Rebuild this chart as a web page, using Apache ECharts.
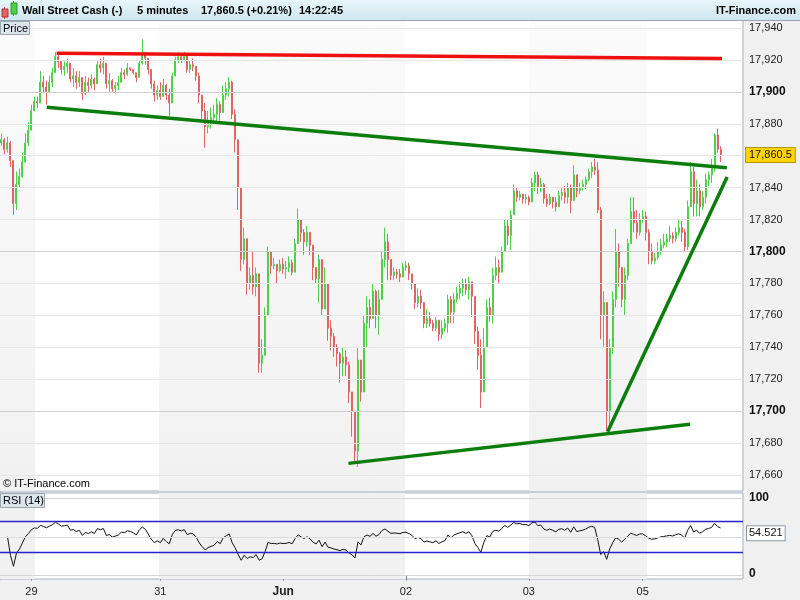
<!DOCTYPE html>
<html><head><meta charset="utf-8">
<script src="https://cdn.jsdelivr.net/npm/echarts@6/dist/echarts.min.js"></script>
<style>html,body{margin:0;padding:0;background:#f0f0f0}#c{width:800px;height:600px}</style>
</head><body><div id="c"></div>
<script>
// ---- data ----
const dayLabels = ['29', '31', 'Jun', '02', '03', '05'];
const dayTickIndex = [10, 53, 94, 135, 176, 214];
const shadedDays = [[0, 11.7], [53.1, 135.2], [176.6, 216.0]]; // in bar units
const firstOpen = 17868;
const closes = [17870,17864,17868,17857,17830,17842,17847,17856,17868,17876,17888,17894,17893,17906,17903,17900,17906,17912,17922,17919,17914,17916,17918,17908,17910,17906,17909,17899,17906,17904,17908,17905,17917,17915,17918,17905,17907,17902,17904,17906,17912,17911,17915,17914,17912,17909,17918,17924,17921,17914,17905,17898,17901,17897,17904,17898,17893,17910,17920,17922,17920,17923,17914,17917,17916,17910,17898,17888,17878,17882,17884,17886,17892,17887,17898,17902,17906,17886,17870,17840,17795,17808,17780,17785,17778,17786,17730,17735,17760,17800,17791,17792,17788,17792,17789,17790,17793,17787,17805,17820,17812,17806,17812,17804,17790,17783,17795,17764,17780,17752,17747,17740,17736,17730,17734,17729,17712,17700,17675,17732,17712,17755,17765,17758,17775,17760,17770,17795,17806,17795,17785,17787,17786,17784,17790,17791,17786,17780,17768,17772,17768,17755,17758,17755,17752,17757,17748,17752,17755,17770,17762,17770,17774,17777,17780,17776,17781,17772,17750,17735,17712,17740,17765,17760,17785,17790,17787,17800,17816,17810,17823,17838,17834,17836,17833,17834,17831,17843,17848,17840,17842,17833,17830,17834,17831,17828,17835,17837,17834,17840,17832,17848,17838,17840,17842,17845,17850,17853,17851,17826,17760,17768,17700,17740,17770,17800,17790,17770,17785,17805,17825,17818,17812,17820,17822,17812,17800,17794,17796,17800,17804,17806,17808,17810,17808,17812,17815,17812,17803,17828,17850,17830,17838,17828,17834,17845,17848,17853,17873,17864,17860.5];
const highs = [17874,17871,17872,17869,17856,17850,17852,17862,17874,17881,17892,17897,17897,17913,17910,17907,17910,17915,17925,17924,17920,17919,17921,17916,17915,17913,17913,17906,17910,17909,17911,17909,17920,17921,17922,17914,17912,17908,17906,17910,17915,17914,17918,17915,17913,17911,17920,17933,17925,17920,17914,17907,17904,17906,17908,17905,17902,17912,17922,17925,17923,17925,17921,17920,17921,17915,17912,17897,17893,17888,17890,17892,17896,17894,17904,17906,17909,17907,17889,17866,17815,17815,17800,17790,17800,17790,17775,17745,17765,17803,17796,17796,17792,17795,17796,17794,17797,17795,17808,17827,17820,17814,17816,17810,17802,17790,17798,17785,17790,17765,17757,17749,17742,17737,17740,17738,17731,17712,17695,17740,17732,17760,17772,17770,17780,17776,17776,17800,17815,17811,17793,17790,17789,17789,17793,17794,17793,17786,17780,17777,17776,17768,17764,17762,17757,17759,17755,17757,17758,17773,17772,17774,17778,17781,17783,17783,17784,17781,17770,17753,17745,17752,17770,17771,17790,17797,17795,17803,17820,17820,17826,17842,17840,17838,17836,17836,17835,17846,17850,17850,17846,17843,17836,17836,17834,17834,17838,17840,17841,17843,17842,17854,17845,17843,17845,17847,17852,17856,17858,17856,17828,17775,17745,17745,17775,17814,17805,17790,17790,17808,17834,17834,17826,17824,17826,17825,17814,17805,17799,17806,17808,17811,17811,17816,17812,17815,17820,17819,17814,17832,17856,17853,17845,17842,17838,17849,17850,17858,17874,17877,17866];
const lows = [17866,17861,17862,17853,17823,17826,17840,17846,17858,17866,17878,17889,17890,17893,17899,17892,17899,17903,17912,17915,17911,17910,17912,17906,17903,17902,17903,17895,17898,17900,17902,17901,17908,17912,17911,17902,17900,17900,17899,17901,17906,17908,17910,17913,17911,17906,17914,17917,17917,17911,17902,17894,17895,17895,17897,17895,17885,17900,17912,17918,17918,17919,17912,17912,17913,17907,17893,17882,17865,17874,17877,17880,17882,17882,17890,17895,17897,17883,17862,17826,17788,17792,17773,17776,17773,17772,17724,17724,17740,17762,17786,17789,17780,17787,17786,17783,17787,17785,17788,17808,17806,17798,17803,17798,17782,17780,17768,17760,17764,17744,17738,17734,17728,17718,17722,17722,17705,17684,17668,17665,17706,17730,17740,17752,17760,17752,17748,17770,17790,17782,17782,17782,17783,17781,17786,17788,17782,17776,17764,17765,17764,17752,17752,17753,17750,17750,17744,17745,17750,17749,17755,17755,17768,17770,17772,17773,17770,17759,17742,17726,17702,17730,17748,17756,17755,17782,17780,17790,17800,17804,17801,17828,17831,17832,17830,17830,17829,17834,17838,17836,17837,17830,17828,17829,17827,17825,17828,17832,17830,17830,17824,17838,17834,17836,17838,17839,17844,17846,17848,17824,17745,17740,17688,17692,17736,17765,17778,17765,17760,17782,17806,17812,17808,17810,17818,17807,17792,17792,17792,17795,17798,17802,17803,17806,17805,17806,17810,17806,17800,17801,17830,17822,17822,17822,17826,17830,17841,17843,17850,17862,17856];
const resistanceLine = [[18.9, 17924.1], [241.0, 17920.9]];
const upperTrendLine = [[15.6, 17890.3], [242.6, 17852.5]];
const lowerTrendLine = [[116.3, 17667.3], [230.3, 17691.8]];
const risingTrendLine = [[202.8, 17687.1], [242.7, 17846.7]];
const rsiLastShown = 54.521;

// ---- build ----
const N = 248;
const FONT = '"Liberation Sans", Arial, sans-serif';
const cats = Array.from({length: N}, (_, i) => String(i));
const candles = closes.map((c, i) => {
  const o = i ? closes[i - 1] : firstOpen;
  return [o, c, Math.min(lows[i], o, c), Math.max(highs[i], o, c)];
});
// RSI(14), Wilder smoothing, from the closes
function rsi(cl, o0, n) {
  const out = []; let ag = 0, al = 0;
  for (let i = 0; i < cl.length; i++) {
    const d = cl[i] - (i ? cl[i - 1] : o0);
    const k = Math.min(i + 1, n);
    ag = (ag * (k - 1) + Math.max(d, 0)) / k;
    al = (al * (k - 1) + Math.max(-d, 0)) / k;
    out.push(i < 2 ? '-' : (al === 0 ? 100 : 100 - 100 / (1 + ag / al)));
  }
  return out;
}
const rsiData = rsi(closes, firstOpen, 14);
const gridLevels = [];
for (let v = 17660; v <= 17940; v += 20) gridLevels.push(v);
const fmt = v => v.toLocaleString('en-US', {maximumFractionDigits: 1});
const CLEAR = 'rgba(0,0,0,0)';

const bandGrad = {type: 'linear', x: 0, y: 0, x2: 0, y2: 1,
  colorStops: [{offset: 0, color: '#fbfbfb'}, {offset: 1, color: '#f1f1f1'}]};
const bandAreas = (color) => shadedDays.map(d => [{xAxis: d[0], itemStyle: {color}}, {xAxis: d[1]}]);
const trend = (data, color) => ({type: 'line', xAxisIndex: 1, yAxisIndex: 0, data, symbol: 'none',
  silent: true, z: 6, lineStyle: {color, width: 3.5}, animation: false});
const HF = 'bold 11px ' + FONT;

const chart = echarts.init(document.getElementById('c'));
chart.setOption({
  animation: false,
  backgroundColor: '#f0f0f0',
  textStyle: {fontFamily: FONT},
  grid: [
    {left: 0, right: 57, top: 20, bottom: 109, show: true, backgroundColor: '#ffffff', borderColor: '#a4b0bc', borderWidth: 1},
    {left: 0, right: 57, top: 493, bottom: 21, show: true, backgroundColor: '#ffffff', borderColor: '#a4b0bc', borderWidth: 1}
  ],
  xAxis: [
    {type: 'category', gridIndex: 0, data: cats, show: false},
    {type: 'value', gridIndex: 0, min: 0, max: N, show: false},
    {type: 'category', gridIndex: 1, data: cats,
      axisLine: {lineStyle: {color: '#98a4b0'}},
      axisTick: {show: true, alignWithLabel: true, length: 5, lineStyle: {color: '#7a8794'},
        interval: (i) => dayTickIndex.includes(i)},
      axisLabel: {interval: (i) => dayTickIndex.includes(i), margin: 7, fontSize: 11, color: '#222',
        formatter: (v) => { const k = dayTickIndex.indexOf(Number(v)); if (k < 0) return ''; const s = dayLabels[k]; return s === 'Jun' ? '{b|' + s + '}' : s; },
        rich: {b: {fontWeight: 'bold', fontSize: 12, color: '#222', fontFamily: FONT}}}},
    {type: 'value', gridIndex: 1, min: 0, max: N, show: false}
  ],
  yAxis: [
    {type: 'value', gridIndex: 0, position: 'right', min: 17650, max: 17945, interval: 10, scale: true,
      axisLine: {show: true, lineStyle: {color: '#8e9aa6'}},
      axisTick: {show: true, length: 4, lineStyle: {color: '#8e9aa6'}},
      splitLine: {show: false},
      axisLabel: {margin: 6, fontSize: 11, color: '#222', showMaxLabel: false, showMinLabel: false,
        formatter: v => { if (v % 20 !== 0) return ''; const s = fmt(v); return v % 100 === 0 ? '{b|' + s + '}' : s; },
        rich: {b: {fontWeight: 'bold', fontSize: 12, color: '#111', fontFamily: FONT}}}},
    {type: 'value', gridIndex: 1, position: 'right', min: -4.4, max: 106.4,
      axisLine: {show: true, lineStyle: {color: '#8e9aa6'}},
      axisTick: {show: false}, axisLabel: {show: false}, splitLine: {show: false}}
  ],
  series: [
    {type: 'line', xAxisIndex: 1, yAxisIndex: 0, data: [], z: 0, silent: true,
      markArea: {silent: true, data: bandAreas(bandGrad)}},
    {type: 'line', xAxisIndex: 1, yAxisIndex: 0, data: [], z: 1, silent: true,
      markLine: {silent: true, symbol: 'none', animation: false, label: {show: false},
        data: gridLevels.map(v => ({yAxis: v, lineStyle: {type: 'solid', width: 1, color: v % 100 === 0 ? '#cfcfcf' : '#e6e6e6'}}))}},
    {type: 'line', xAxisIndex: 3, yAxisIndex: 1, data: [], z: 0, silent: true,
      markArea: {silent: true, data: bandAreas('#f1f1f1')}},
    {type: 'line', xAxisIndex: 3, yAxisIndex: 1, data: [], z: 1, silent: true,
      markLine: {silent: true, symbol: 'none', animation: false,
        data: [
          {yAxis: 100, lineStyle: {type: 'solid', color: '#d6d6d6', width: 1},
            label: {show: true, position: 'end', formatter: '100', fontWeight: 'bold', fontSize: 12, color: '#111', distance: 6}},
          {yAxis: 50, lineStyle: {type: 'solid', color: '#dcdcdc', width: 1}, label: {show: false}},
          {yAxis: 0, lineStyle: {type: 'solid', color: '#d6d6d6', width: 1},
            label: {show: true, position: 'end', formatter: '0', fontWeight: 'bold', fontSize: 12, color: '#111', distance: 6, offset: [0, -2]}},
          {yAxis: 70, lineStyle: {type: 'solid', color: '#2424cc', width: 1.3}, label: {show: false}},
          {yAxis: 30, lineStyle: {type: 'solid', color: '#2424cc', width: 1.3}, label: {show: false}}
        ]}},
    {type: 'candlestick', xAxisIndex: 0, yAxisIndex: 0, data: candles, z: 3, barWidth: 1.5,
      itemStyle: {color: '#4fd04a', color0: '#e06464', borderColor: '#4fd04a', borderColor0: '#e06464', borderWidth: 1},
      markLine: {silent: true, symbol: 'none', animation: false, z: 10,
        data: [{yAxis: closes[closes.length - 1], lineStyle: {color: CLEAR, width: 0},
          label: {show: true, position: 'end', distance: 3, formatter: fmt(closes[closes.length - 1]),
            backgroundColor: '#ffd400', borderColor: '#b89600', borderWidth: 1, padding: [2, 3, 1, 3],
            color: '#111', fontSize: 11}}]}},
    trend(resistanceLine, '#ee1010'),
    trend(upperTrendLine, '#0a7d0a'),
    trend(lowerTrendLine, '#0a7d0a'),
    trend(risingTrendLine, '#0a7d0a'),
    {type: 'line', xAxisIndex: 2, yAxisIndex: 1, data: rsiData, symbol: 'none', z: 3,
      lineStyle: {color: '#111', width: 1},
      markLine: {silent: true, symbol: 'none', animation: false, z: 10,
        data: [{yAxis: rsiLastShown, lineStyle: {color: CLEAR, width: 0},
          label: {show: true, position: 'end', distance: 4, formatter: String(rsiLastShown),
            backgroundColor: '#ffffff', borderColor: '#8e9aa6', borderWidth: 1, padding: [2, 2, 1, 2],
            color: '#111', fontSize: 11}}]}}
  ],
  graphic: [
    {type: 'rect', shape: {x: 0, y: 0, width: 800, height: 20}, z: 100,
      style: {fill: {type: 'linear', x: 0, y: 0, x2: 0, y2: 1, colorStops: [{offset: 0, color: '#e8f6fb'}, {offset: 1, color: '#cfe6ef'}]}}},
    {type: 'line', shape: {x1: 0, y1: 20.5, x2: 800, y2: 20.5}, z: 100, style: {stroke: '#98a6b2', lineWidth: 1}},
    {type: 'line', shape: {x1: 4.5, y1: 7, x2: 4.5, y2: 19}, z: 101, style: {stroke: '#d84040', lineWidth: 1}},
    {type: 'rect', shape: {x: 2, y: 9, width: 6, height: 8}, z: 101, style: {fill: '#e06464', stroke: '#b03030', lineWidth: 1}},
    {type: 'line', shape: {x1: 13.5, y1: 1, x2: 13.5, y2: 16}, z: 101, style: {stroke: '#30a030', lineWidth: 1}},
    {type: 'rect', shape: {x: 11, y: 3, width: 6, height: 11}, z: 101, style: {fill: '#4fd04a', stroke: '#2a9a2a', lineWidth: 1}},
    {type: 'text', x: 22, y: 11, z: 101, style: {text: 'Wall Street Cash (-)', font: HF, fill: '#000', verticalAlign: 'middle'}},
    {type: 'text', x: 137, y: 11, z: 101, style: {text: '5 minutes', font: HF, fill: '#000', verticalAlign: 'middle'}},
    {type: 'text', x: 201, y: 11, z: 101, style: {text: '17,860.5 (+0.21%)', font: HF, fill: '#000', verticalAlign: 'middle'}},
    {type: 'text', x: 299, y: 11, z: 101, style: {text: '14:22:45', font: HF, fill: '#000', verticalAlign: 'middle'}},
    {type: 'text', x: 796, y: 11, z: 101, style: {text: 'IT-Finance.com', font: HF, fill: '#000', align: 'right', verticalAlign: 'middle'}},
    {type: 'rect', shape: {x: 0.5, y: 21.5, width: 29, height: 13}, z: 101, style: {fill: '#dbe5ec', stroke: '#9aa8b4', lineWidth: 1}},
    {type: 'text', x: 3, y: 28.5, z: 102, style: {text: 'Price', font: '11px ' + FONT, fill: '#000', verticalAlign: 'middle'}},
    {type: 'text', x: 3, y: 484, z: 102, style: {text: '© IT-Finance.com', font: '11px ' + FONT, fill: '#000', verticalAlign: 'middle'}},
    {type: 'rect', shape: {x: 0.5, y: 493.5, width: 44, height: 14}, z: 101, style: {fill: '#dbe5ec', stroke: '#9aa8b4', lineWidth: 1}},
    {type: 'text', x: 3, y: 501, z: 102, style: {text: 'RSI (14)', font: '11px ' + FONT, fill: '#000', verticalAlign: 'middle'}}
  ]
});
</script>
</body></html>
